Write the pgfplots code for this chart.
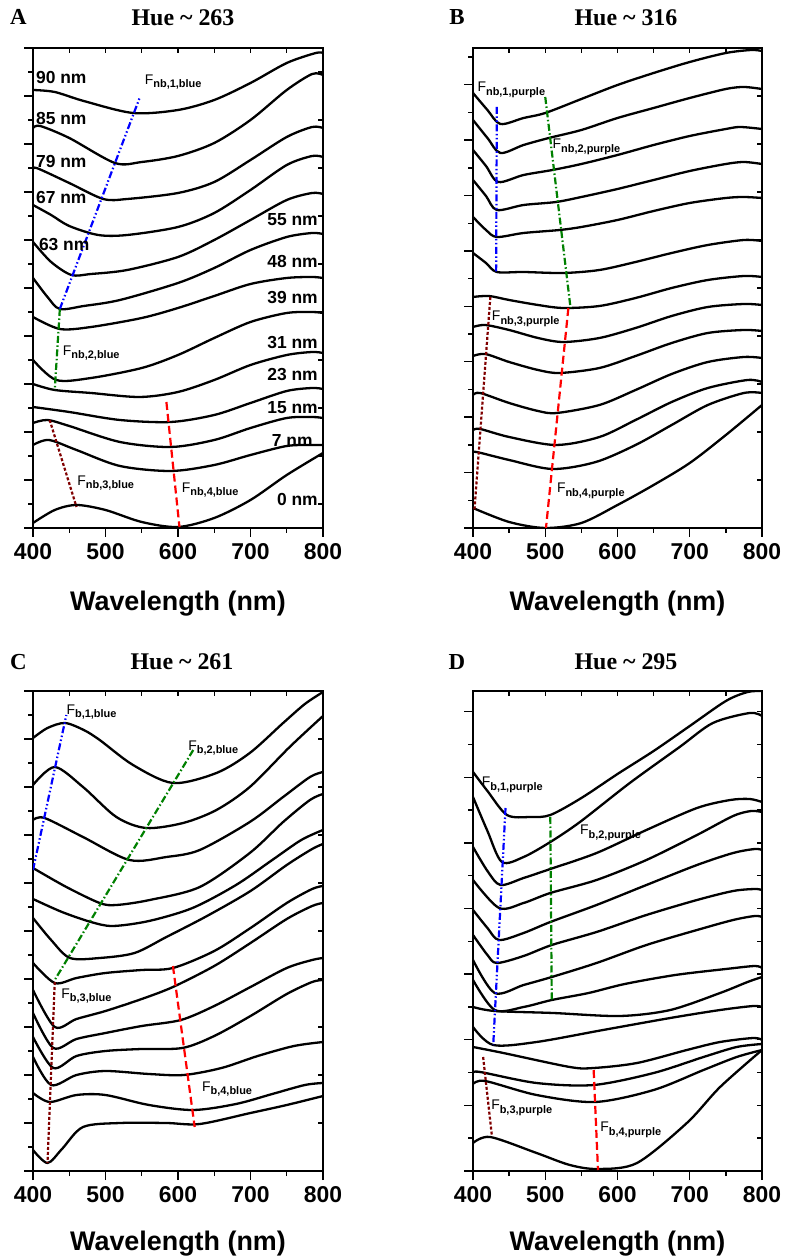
\documentclass[border=0pt]{standalone}
\usepackage{fontspec}
\setmainfont{Liberation Sans}
\newfontfamily\tnr{Liberation Serif}
\usepackage{pgfplots}
\pgfplotsset{compat=1.18}
\definecolor{dkred}{RGB}{128,0,0}
\definecolor{dkgreen}{RGB}{0,128,0}
\newcommand{\Fl}[1]{{\fontsize{14}{14}\selectfont F}\raisebox{-3.5bp}{\fontsize{11}{11}\selectfont\bfseries #1}}
\tikzset{
 nm/.style={font=\bfseries\fontsize{17.5}{17.5}\selectfont, inner sep=0pt},
 fl/.style={inner sep=0pt, anchor=west},
}
\pgfplotsset{
 base/.style={scale only axis, width=290bp, height=480bp, xmin=400, xmax=800, ymin=0, ymax=480, axis line style={line width=1.6bp}},
 main/.style={base, xtick={400,500,600,700,800}, minor xtick={450,550,650,750}, xtick pos=left, ytick pos=left, tick align=outside,
   major tick length=9bp, minor tick length=5bp, tick style={black, line width=1.4bp}, yticklabels={},
   /pgf/number format/assume math mode=true,
   xticklabel style={font=\bfseries\fontsize{23}{23}\selectfont, inner sep=0pt, yshift=-6bp},
   every axis x label/.style={at={(axis description cs:0.5,0)}, anchor=north, yshift=-63bp, inner sep=0pt, font=\bfseries\fontsize{27}{27}\selectfont},
   xlabel={Wavelength (nm)}},
 over/.style={base, xtick={450,500,...,750}, xtick pos=right, ytick pos=right, tick align=inside, major tick length=5bp,
   tick style={black, line width=1.4bp}, xticklabels={}, yticklabels={}},
 crv/.style={black, line width=2.3bp, smooth, no marks},
 lblue/.style={blue, line width=2.2bp, no marks, dash pattern=on 7bp off 2.5bp on 1.5bp off 2.5bp on 1.5bp off 2.5bp},
 lgreen/.style={dkgreen, line width=2.2bp, no marks, dash pattern=on 7bp off 2.5bp on 1.5bp off 2.5bp},
 ldred/.style={dkred, line width=2.2bp, no marks, dash pattern=on 3bp off 2bp},
 lred/.style={red, line width=2.2bp, no marks, dash pattern=on 8bp off 4bp},
}
\begin{document}
\begin{tikzpicture}
\path[use as bounding box] (0,0) rectangle (785bp,1256bp);
% titles
\node[anchor=base, font=\tnr\bfseries\fontsize{23}{23}\selectfont] at (18.5bp,1231bp) {A};
\node[anchor=base, font=\tnr\bfseries\fontsize{24}{24}\selectfont] at (183bp,1230bp) {Hue \textasciitilde{} 263};
\node[anchor=base, font=\tnr\bfseries\fontsize{23}{23}\selectfont] at (457bp,1231bp) {B};
\node[anchor=base, font=\tnr\bfseries\fontsize{24}{24}\selectfont] at (626bp,1230bp) {Hue \textasciitilde{} 316};
\node[anchor=base, font=\tnr\bfseries\fontsize{23}{23}\selectfont] at (18.5bp,586bp) {C};
\node[anchor=base, font=\tnr\bfseries\fontsize{24}{24}\selectfont] at (182bp,586bp) {Hue \textasciitilde{} 261};
\node[anchor=base, font=\tnr\bfseries\fontsize{23}{23}\selectfont] at (457bp,586bp) {D};
\node[anchor=base, font=\tnr\bfseries\fontsize{24}{24}\selectfont] at (626bp,586bp) {Hue \textasciitilde{} 295};

% ================= Panel A =================
\begin{axis}[over, at={(33bp,728bp)}, anchor=south west, ytick={24,72,...,456}]
\end{axis}
\begin{axis}[main, at={(33bp,728bp)}, anchor=south west, ytick={0,48,...,480}, minor ytick={24,72,...,456}]
\addplot[crv] coordinates {(400,438) (430,436) (470,427) (538,415) (600,418) (650,428) (700,445) (750,465) (790,475) (800,475)};
\addplot[crv] coordinates {(400,400) (410,402) (450,390) (513,365) (550,366) (600,372) (650,385) (700,408) (750,438) (785,454) (800,453)};
\addplot[crv] coordinates {(400,358) (405,360) (450,345) (497,329) (530,329) (600,335) (650,346) (700,368) (750,391) (785,401) (800,400)};
\addplot[crv] coordinates {(400,323) (425,313) (450,302) (490,293) (530,293) (600,301) (650,315) (700,338) (750,363) (785,372) (800,371)};
\addplot[crv] coordinates {(400,286) (425,266) (453,253) (480,254) (530,258) (600,271) (650,288) (700,308) (750,328) (785,335) (800,334)};
\addplot[crv] coordinates {(400,250) (420,231) (437,219) (470,222) (520,228) (600,245) (650,260) (700,278) (750,291) (785,295) (800,294)};
\addplot[crv] coordinates {(400,211) (437,199) (480,201) (550,210) (600,220) (650,232) (700,244) (750,250) (785,251) (800,250)};
\addplot[crv] coordinates {(400,168) (432,148) (480,150) (550,160) (600,173) (650,190) (700,206) (750,215) (785,216) (800,215)};
\addplot[crv] coordinates {(400,144) (430,138) (480,135) (547,131) (600,136) (650,148) (700,163) (750,173) (785,176) (800,175)};
\addplot[crv] coordinates {(400,121) (450,116) (520,108) (590,106) (650,113) (700,125) (750,137) (785,140) (800,139)};
\addplot[crv] coordinates {(400,105) (420,108) (450,102) (520,86) (590,81) (650,88) (700,100) (750,110) (785,111) (800,110)};
\addplot[crv] coordinates {(400,83) (422,88) (460,78) (520,62) (590,57) (650,63) (700,73) (750,82) (785,83) (800,83)};
\addplot[crv] coordinates {(400,5) (430,18) (460,23) (500,18) (550,6) (600,1) (650,10) (700,28) (750,53) (800,75)};
\addplot[lblue] coordinates {(437,219) (547,430)};
\addplot[lgreen] coordinates {(437,219) (430,138)};
\addplot[ldred] coordinates {(423,108) (460,21)};
\addplot[lred] coordinates {(584,126) (602,1)};
\node[nm, anchor=west] at (axis cs:404,450) {90 nm};
\node[nm, anchor=west] at (axis cs:404,409) {85 nm};
\node[nm, anchor=west] at (axis cs:404,366) {79 nm};
\node[nm, anchor=west] at (axis cs:404,330) {67 nm};
\node[nm, anchor=west] at (axis cs:408,283) {63 nm};
\node[nm, anchor=east] at (axis cs:793,308) {55 nm};
\node[nm, anchor=east] at (axis cs:793,266) {48 nm};
\node[nm, anchor=east] at (axis cs:793,230) {39 nm};
\node[nm, anchor=east] at (axis cs:793,185) {31 nm};
\node[nm, anchor=east] at (axis cs:793,153) {23 nm};
\node[nm, anchor=east] at (axis cs:793,120) {15 nm};
\node[nm, anchor=east] at (axis cs:786,87) {7 nm};
\node[nm, anchor=east] at (axis cs:793,28) {0 nm};
\node[fl] at (axis cs:554,446) {\Fl{nb,1,blue}};
\node[fl] at (axis cs:441,175) {\Fl{nb,2,blue}};
\node[fl] at (axis cs:461,45) {\Fl{nb,3,blue}};
\node[fl] at (axis cs:605,38) {\Fl{nb,4,blue}};
\end{axis}

% ================= Panel B =================
\begin{axis}[over, at={(473bp,728bp)}, anchor=south west, width=289bp, ytick={48,96,...,432}]
\end{axis}
\begin{axis}[main, at={(473bp,728bp)}, anchor=south west, width=289bp, ytick={0,55.4,...,443.2}, minor ytick={27.7,83.1,...,471}]
\addplot[crv] coordinates {(400,435) (420,418) (438,404) (470,410) (500,415) (550,429) (600,443) (650,455) (700,466) (750,475) (785,478) (800,477)};
\addplot[crv] coordinates {(400,408) (420,390) (438,375) (470,383) (505,390) (550,398) (600,410) (650,420) (700,430) (750,439) (775,441) (800,439)};
\addplot[crv] coordinates {(400,378) (418,362) (435,346) (470,353) (510,358) (550,364) (600,373) (650,383) (700,392) (750,399) (770,401) (800,399)};
\addplot[crv] coordinates {(400,348) (418,332) (433,318) (470,323) (515,326) (550,331) (600,339) (650,348) (700,357) (750,364) (775,366) (800,364)};
\addplot[crv] coordinates {(400,311) (418,298) (433,291) (470,295) (520,298) (550,301) (600,308) (650,317) (700,325) (750,330) (775,331) (800,330)};
\addplot[crv] coordinates {(400,275) (418,265) (433,256) (470,256) (525,255) (575,258) (625,266) (675,275) (725,283) (775,288) (800,287)};
\addplot[crv] coordinates {(400,231) (422,232) (450,228) (490,223) (525,220) (575,222) (625,230) (675,240) (725,248) (775,252) (800,251)};
\addplot[crv] coordinates {(400,201) (417,203) (450,198) (490,190) (525,186) (575,190) (625,200) (675,212) (725,221) (775,224) (800,223)};
\addplot[crv] coordinates {(400,172) (417,174) (450,166) (490,158) (520,155) (575,160) (625,172) (675,185) (725,195) (775,198) (800,197)};
\addplot[crv] coordinates {(400,133) (410,135) (450,125) (490,117) (516,115) (575,123) (625,138) (675,154) (725,166) (775,171) (800,170)};
\addplot[crv] coordinates {(400,98) (410,99) (450,91) (515,83) (575,91) (625,108) (675,126) (725,140) (780,148) (800,146)};
\addplot[crv] coordinates {(400,75) (405,76) (450,68) (510,59) (570,66) (625,83) (675,103) (725,123) (775,135) (800,135)};
\addplot[crv] coordinates {(400,20) (450,6) (500,0) (550,5) (600,23) (650,43) (700,65) (750,93) (800,123)};
\addplot[lblue] coordinates {(433,421) (432,255)};
\addplot[lgreen] coordinates {(500,431) (535,220)};
\addplot[ldred] coordinates {(424,231) (402,18)};
\addplot[lred] coordinates {(532,220) (501,0)};
\node[fl] at (axis cs:406,438) {\Fl{nb,1,purple}};
\node[fl] at (axis cs:510,381) {\Fl{nb,2,purple}};
\node[fl] at (axis cs:426,209) {\Fl{nb,3,purple}};
\node[fl] at (axis cs:516,37) {\Fl{nb,4,purple}};
\end{axis}

% ================= Panel C =================
\begin{axis}[over, at={(33bp,85bp)}, anchor=south west, ytick={48,96,...,432}]
\end{axis}
\begin{axis}[main, at={(33bp,85bp)}, anchor=south west, ytick={0,48,...,480}, minor ytick={24,72,...,456}, xlabel style={yshift=3bp}]
\addplot[crv] coordinates {(400,433) (420,443) (444,448) (470,441) (492,431) (538,406) (593,388) (653,398) (699,418) (745,448) (775,467) (800,479)};
\addplot[crv] coordinates {(400,386) (430,404) (469,384) (515,354) (556,343) (607,348) (653,361) (699,384) (754,424) (800,455)};
\addplot[crv] coordinates {(400,351) (416,353) (469,334) (533,311) (584,314) (630,321) (699,349) (745,374) (782,394) (800,399)};
\addplot[crv] coordinates {(400,303) (446,284) (492,268) (515,266) (561,271) (630,284) (699,318) (745,349) (782,371) (800,377)};
\addplot[crv] coordinates {(400,272) (440,259) (480,249) (510,245) (560,250) (620,263) (680,286) (730,311) (770,331) (800,341)};
\addplot[crv] coordinates {(400,253) (425,231) (451,213) (492,213) (540,218) (584,234) (640,255) (700,280) (750,306) (785,322) (800,327)};
\addplot[crv] coordinates {(400,208) (430,188) (460,193) (500,198) (550,201) (593,203) (650,220) (700,243) (750,268) (785,282) (800,285)};
\addplot[crv] coordinates {(400,181) (430,144) (460,152) (500,160) (550,172) (593,184) (650,205) (700,228) (750,252) (785,265) (800,268)};
\addplot[crv] coordinates {(400,158) (428,123) (460,132) (500,138) (550,145) (604,151) (650,165) (700,184) (750,203) (785,211) (800,213)};
\addplot[crv] coordinates {(400,134) (428,103) (460,115) (500,120) (550,122) (606,123) (650,135) (700,155) (750,177) (785,189) (800,191)};
\addplot[crv] coordinates {(400,114) (425,86) (460,96) (500,100) (560,97) (608,96) (660,103) (710,115) (760,125) (800,129)};
\addplot[crv] coordinates {(400,78) (423,69) (460,76) (500,76) (560,66) (621,61) (680,67) (730,77) (775,86) (800,88)};
\addplot[crv] coordinates {(400,21) (420,8) (440,22) (469,44) (520,48) (584,48) (630,47) (700,58) (750,66) (800,75)};
\addplot[lblue] coordinates {(400,301) (446,456)};
\addplot[lgreen] coordinates {(621,421) (430,191)};
\addplot[ldred] coordinates {(430,189) (420,8)};
\addplot[lred] coordinates {(593,205) (623,44)};
\node[fl] at (axis cs:446,459) {\Fl{b,1,blue}};
\node[fl] at (axis cs:614,423) {\Fl{b,2,blue}};
\node[fl] at (axis cs:439,175) {\Fl{b,3,blue}};
\node[fl] at (axis cs:633,82) {\Fl{b,4,blue}};
\end{axis}

% ================= Panel D =================
\begin{axis}[over, at={(473bp,85bp)}, anchor=south west, width=289bp, ytick={32.8,65.6,...,459.2}]
\end{axis}
\begin{axis}[main, at={(473bp,85bp)}, anchor=south west, width=289bp, ytick={0,65.6,...,459.2}, minor ytick={32.8,98.4,...,426.4}, xlabel style={yshift=3bp}]
\addplot[crv] coordinates {(400,399) (420,380) (447,356) (479,354) (507,356) (550,373) (600,397) (650,420) (700,445) (750,470) (780,479) (800,480)};
\addplot[crv] coordinates {(400,374) (420,340) (440,309) (470,314) (507,329) (548,349) (617,388) (686,424) (732,448) (783,458) (800,455)};
\addplot[crv] coordinates {(400,324) (420,300) (438,286) (470,293) (507,302) (571,318) (640,341) (710,363) (756,371) (783,372) (800,369)};
\addplot[crv] coordinates {(400,291) (436,263) (470,268) (507,278) (571,291) (640,311) (710,336) (760,355) (785,360) (800,359)};
\addplot[crv] coordinates {(400,261) (420,243) (436,231) (470,238) (507,249) (571,266) (640,286) (710,306) (760,318) (790,322) (800,321)};
\addplot[crv] coordinates {(400,236) (420,216) (433,208) (470,215) (509,226) (571,239) (640,256) (710,271) (760,280) (790,282) (800,281)};
\addplot[crv] coordinates {(400,211) (430,178) (470,186) (509,194) (571,208) (640,226) (710,241) (760,251) (790,255) (800,254)};
\addplot[crv] coordinates {(400,191) (430,161) (470,164) (509,171) (560,178) (610,187) (680,196) (750,202) (790,205) (800,203)};
\addplot[crv] coordinates {(400,164) (430,160) (511,158) (603,155) (673,161) (742,178) (780,189) (800,194)};
\addplot[crv] coordinates {(400,144) (428,126) (488,129) (580,141) (673,153) (742,161) (788,165) (800,164)};
\addplot[crv] coordinates {(400,124) (442,118) (534,104) (567,103) (627,108) (696,121) (742,129) (788,133) (800,131)};
\addplot[crv] coordinates {(400,98) (410,99) (488,88) (567,86) (650,98) (719,114) (765,124) (800,127)};
\addplot[crv] coordinates {(400,87) (417,90) (488,76) (569,69) (650,81) (719,101) (765,114) (800,121)};
\addplot[crv] coordinates {(400,28) (424,34) (488,18) (534,6) (573,2) (627,8) (696,48) (742,84) (800,121)};
\addplot[lblue] coordinates {(445,363) (428,126)};
\addplot[lgreen] coordinates {(507,354) (509,171)};
\addplot[ldred] coordinates {(414,114) (426,36)};
\addplot[lred] coordinates {(567,101) (573,1)};
\node[fl] at (axis cs:412,386) {\Fl{b,1,purple}};
\node[fl] at (axis cs:548,338) {\Fl{b,2,purple}};
\node[fl] at (axis cs:425,63) {\Fl{b,3,purple}};
\node[fl] at (axis cs:576,41) {\Fl{b,4,purple}};
\end{axis}
\end{tikzpicture}
\end{document}
